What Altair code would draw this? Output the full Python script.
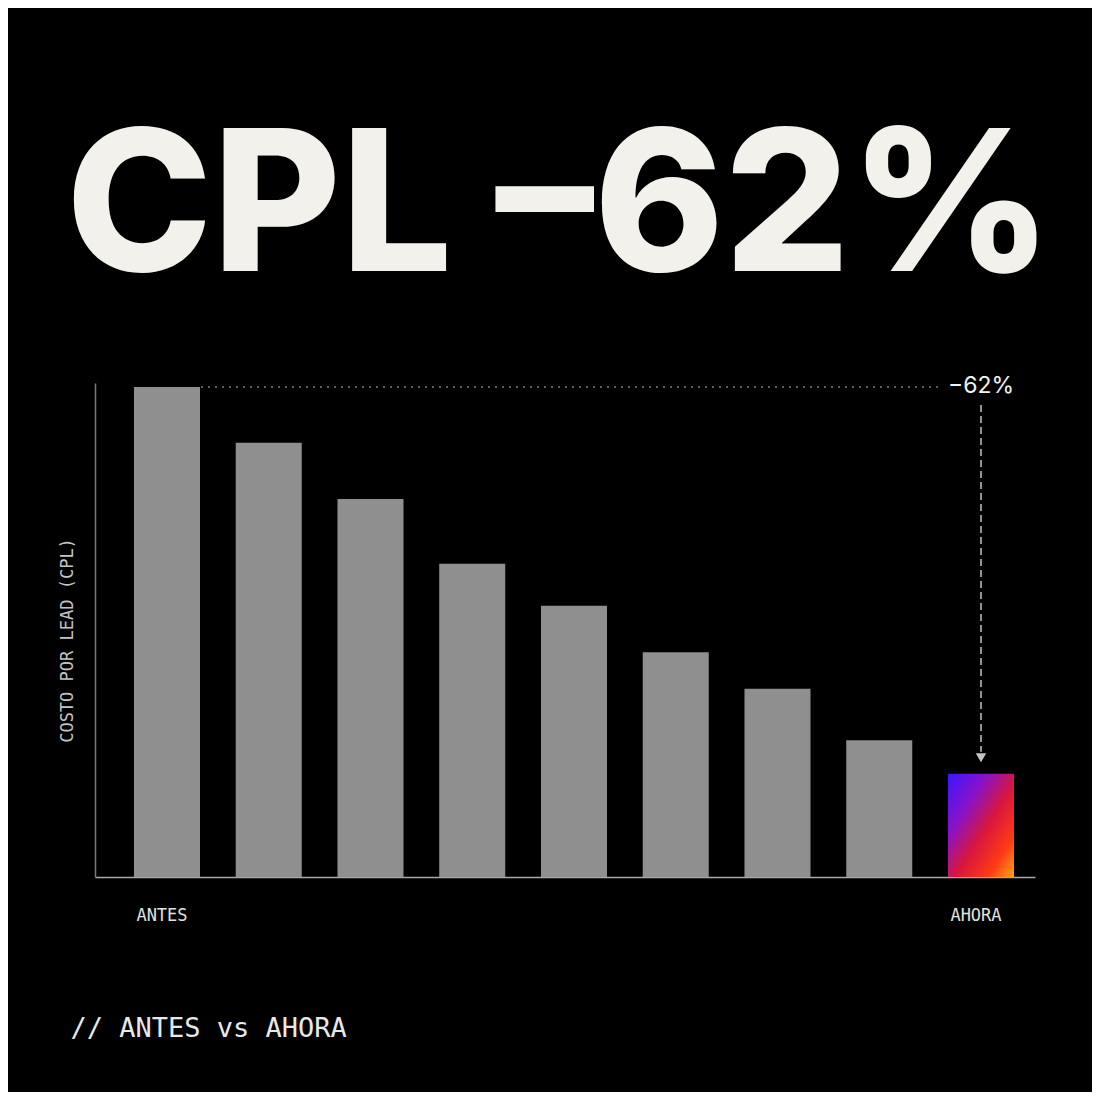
import altair as alt
import pandas as pd

# ---- data ----
periods = ["ANTES", "M2", "M3", "M4", "M5", "M6", "M7", "M8", "AHORA"]
cpl = [99.2, 87.9, 76.5, 63.4, 54.9, 45.5, 38.1, 27.7, 20.9]
headline = "CPL –62%"
delta_label = "−62%"
y_title = "COSTO POR LEAD (CPL)"
footer = "// ANTES vs AHORA"
shown_labels = ["ANTES", "AHORA"]

df = pd.DataFrame({"periodo": periods, "cpl": cpl})
ann = pd.DataFrame({
    "start": [periods[0]], "end": [periods[-1]],
    "v": [cpl[0]], "v_end": [cpl[-1]], "label": [delta_label],
})

MONO = "DejaVu Sans Mono"
W, H = 940, 494

xscale = alt.Scale(domain=periods, paddingInner=0.351, paddingOuter=0.2946, align=0.65)
yscale = alt.Scale(domain=[0, 100], nice=False, zero=True)

label_expr = "indexof(" + str(shown_labels).replace("'", '"') + ", datum.value) >= 0 ? datum.value : ''"

xaxis = alt.Axis(
    domain=True, domainColor="#a9a9a9", domainWidth=1.5,
    ticks=False, tickSize=0, grid=False,
    labelExpr=label_expr, labelColor="#e2e2e2", labelFont=MONO, labelFontSize=17,
    labelPadding=30, labelAngle=0, labelOffset=-5,
    titleFont=MONO, titleFontSize=27, titleColor="#e8e8e8", titleFontWeight="normal",
    titleX=-25, titleY=159, titleAlign="left", titleBaseline="alphabetic", titleAnchor="start",
)
yaxis = alt.Axis(
    domain=True, domainColor="#7a7a7a", domainWidth=1.5,
    ticks=False, labels=False, grid=False,
    titleFont=MONO, titleFontSize=17, titleColor="#c4c4c4", titleFontWeight="normal",
    titlePadding=19, titleX=-19, titleY=257,
)

def X(field):
    return alt.X(field, type="nominal", scale=xscale, axis=xaxis, title=footer)

def Y(field):
    return alt.Y(field, type="quantitative", scale=yscale, axis=yaxis, title=y_title)

base = alt.Chart(df)
bars = base.transform_filter(alt.datum.periodo != periods[-1]).mark_bar(color="#8f8f8f").encode(
    x=X("periodo"), y=Y("cpl"))

grad = alt.Gradient(
    gradient="linear", x1=0, y1=0, x2=1, y2=1,
    stops=[
        alt.GradientStop(offset=0.0, color="#3a16ff"),
        alt.GradientStop(offset=0.3, color="#8a12c8"),
        alt.GradientStop(offset=0.55, color="#d8163e"),
        alt.GradientStop(offset=0.8, color="#ff3a14"),
        alt.GradientStop(offset=1.0, color="#ffa514"),
    ],
)
last_bar = base.transform_filter(alt.datum.periodo == periods[-1]).mark_bar(color=grad).encode(
    x=X("periodo"), y=Y("cpl"))

abase = alt.Chart(ann)
hline = abase.mark_rule(color="#7c7c7c", strokeDash=[2, 5], strokeWidth=1.5, xOffset=34, x2Offset=-40).encode(
    x=X("start"), x2=alt.X2("end"), y=Y("v"))
vline = abase.mark_rule(color="#c4c4c4", strokeDash=[7, 4], strokeWidth=1.5, yOffset=18, y2Offset=-22).encode(
    x=X("end"), y=Y("v"), y2=alt.Y2("v_end"))
arrow = abase.mark_point(shape="triangle-down", filled=True, color="#c4c4c4", size=110, opacity=1, yOffset=-16).encode(
    x=X("end"), y=Y("v_end"))
dlabel = abase.mark_text(font="Inter", fontSize=23, color="#f2f2f2", baseline="middle", align="center", dy=-1).encode(
    x=X("end"), y=Y("v"), text="label:N")

chart = alt.layer(bars, last_bar, hline, vline, arrow, dlabel).properties(
    width=W, height=H,
    title=alt.TitleParams(
        text=headline, font="Inter", fontSize=197, fontWeight=800, color="#f3f1ec",
        anchor="start", align="left", frame="group", dx=-29, offset=111, dy=204, baseline="alphabetic",
    ),
    autosize=alt.AutoSizeParams(type="none"),
    padding={"left": 87, "top": 375, "right": 57, "bottom": 215},
).configure(background="#000000").configure_view(stroke=None)

chart.save("out.html", embed_options={"renderer": "svg", "actions": False})
